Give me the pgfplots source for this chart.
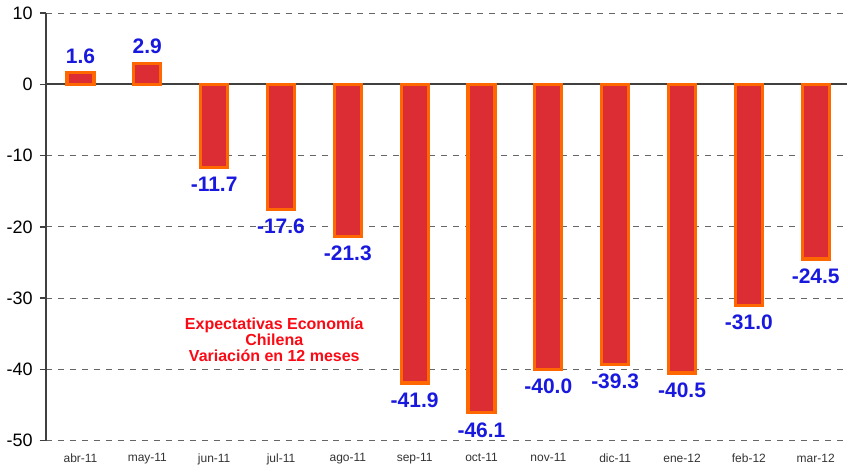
\documentclass[border=0pt]{standalone}
\usepackage{pgfplots}
\pgfplotsset{compat=1.18}
\usepackage{fontspec}
\setmainfont{Liberation Sans}
\definecolor{barfill}{RGB}{220,44,52}
\definecolor{barline}{RGB}{255,104,0}
\definecolor{lblblue}{RGB}{24,24,222}
\definecolor{notered}{RGB}{250,10,20}

\begin{document}
\begin{tikzpicture}
\begin{axis}[
  scale only axis,
  width=401pt, height=214pt,
  ybar, bar width=13.5pt,
  xmin=-0.52, xmax=11.47,
  ymin=-50, ymax=10,
  axis lines*=left,
  x axis line style={draw=none},
  y axis line style={black!75, line width=0.8pt},
  xtick=data,
  xticklabels={abr-11,may-11,jun-11,jul-11,ago-11,sep-11,oct-11,nov-11,dic-11,ene-12,feb-12,mar-12},
  xtick style={draw=none},
  xticklabel style={font=\fontsize{6}{7}\selectfont, text=black!80},
  ytick={-50,-40,-30,-20,-10,10},
  extra y ticks={0},
  extra y tick style={major grid style={solid, black!75, line width=0.9pt}},
  yticklabel style={font=\fontsize{9}{10}\selectfont},
  /pgf/number format/assume math mode=true,
  tick align=outside,
  major tick length=3pt,
  ytick style={black!75, line width=0.7pt},
  ymajorgrids,
  major grid style={dashed, black!60, line width=0.5pt},
  nodes near coords,
  nodes near coords style={font=\bfseries\fontsize{10.5}{12}\selectfont, text=lblblue, inner sep=4pt,
    /pgf/number format/fixed, /pgf/number format/fixed zerofill, /pgf/number format/precision=1},
]
\addplot[fill=barfill, draw=barline, line width=1.6pt] coordinates
  {(0,1.6) (1,2.9) (2,-11.7) (3,-17.6) (4,-21.3) (5,-41.9) (6,-46.1) (7,-40.0) (8,-39.3) (9,-40.5) (10,-31.0) (11,-24.5)};
\node[align=center, text=notered, font=\bfseries\fontsize{8}{8}\selectfont] at (axis cs:2.9,-35.9)
  {Expectativas Economía\\Chilena\\Variación en 12 meses};
\end{axis}
\end{tikzpicture}
\end{document}
